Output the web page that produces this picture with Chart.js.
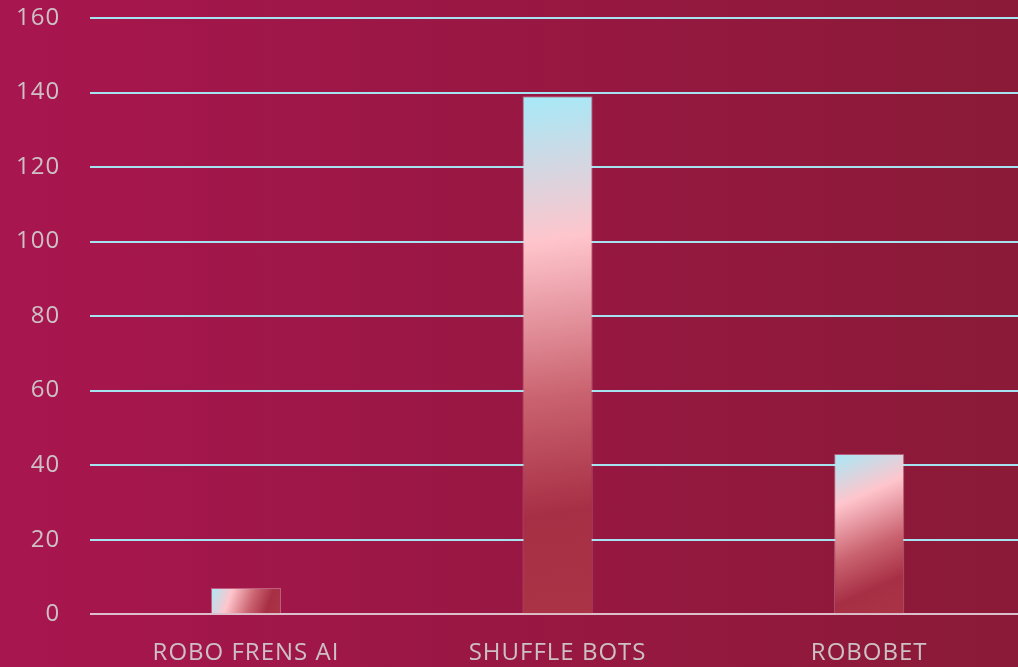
<!DOCTYPE html>
<html lang="en">
<head>
    <meta charset="UTF-8">
    <title>Bots</title>
    <script src="https://cdn.jsdelivr.net/npm/chart.js"></script>
    <style>
        html, body { margin: 0; padding: 0; }
        body {
            width: 1018px;
            height: 667px;
            overflow: hidden;
            background: linear-gradient(90deg, #a8164f 0%, #9a1744 45%, #8a1a37 100%);
        }
        #myChart { display: block; }
    </style>
</head>
<body>
    <!-- a bit wider than the window: the grid runs off the right edge -->
    <canvas id="myChart" width="1025" height="667"></canvas>
    <script>
        const categories = ['ROBO FRENS AI', 'SHUFFLE BOTS', 'ROBOBET'];
        const values = [7, 139, 43];
        const yMax = 160;
        const yStep = 20;

        const labelColor = '#cdc1c6';
        const spacing = '1px';

        // letterSpacing is reset every time the canvas is resized, so set it again before layout and draw
        const spacingPlugin = {
            id: 'spacing',
            beforeLayout(chart) { chart.ctx.letterSpacing = spacing; },
            beforeDraw(chart) { chart.ctx.letterSpacing = spacing; }
        };

        // diagonal gradient per bar, top-left cyan to bottom-right red
        const barGradient = {
            id: 'barGradient',
            beforeDatasetsDraw(chart) {
                const ctx = chart.ctx;
                chart.getDatasetMeta(0).data.forEach(bar => {
                    const left = bar.x - bar.width / 2;
                    const right = bar.x + bar.width / 2;
                    const g = ctx.createLinearGradient(left, bar.y, right, bar.base);
                    g.addColorStop(0, '#a6e9f8');
                    g.addColorStop(0.28, '#ffc5cc');
                    g.addColorStop(0.58, '#c9626f');
                    g.addColorStop(0.8, '#a72f45');
                    g.addColorStop(1, '#aa3446');
                    bar.options.backgroundColor = g;
                });
            }
        };

        const ctx = document.getElementById('myChart').getContext('2d');

        const chart = new Chart(ctx, {
            type: 'bar',
            data: {
                labels: categories,
                datasets: [{
                    data: values,
                    backgroundColor: () => '#c9626f', // scriptable, so every bar keeps its own options
                    borderColor: 'rgba(255, 225, 235, 0.35)',
                    borderWidth: 1,
                    barPercentage: 1,
                    categoryPercentage: 0.225
                }]
            },
            options: {
                responsive: false,
                animation: false,
                layout: {
                    padding: { top: 18, left: 16, right: 0, bottom: -26 }
                },
                plugins: {
                    legend: { display: false },
                    tooltip: { enabled: false }
                },
                scales: {
                    x: {
                        grid: { display: false, drawTicks: false },
                        border: { display: false },
                        ticks: {
                            color: labelColor,
                            padding: 25,
                            font: { family: 'Open Sans', size: 24 }
                        }
                    },
                    y: {
                        min: 0,
                        max: yMax,
                        border: { display: false },
                        grid: {
                            drawTicks: true,
                            tickLength: 30,
                            tickColor: 'transparent',
                            lineWidth: 2,
                            color: (c) => c.index === 0 ? '#dcbfca' : '#a6e3f0'
                        },
                        ticks: {
                            stepSize: yStep,
                            color: labelColor,
                            padding: 0,
                            font: { family: 'Open Sans', size: 24 }
                        }
                    }
                }
            },
            plugins: [spacingPlugin, barGradient]
        });
    </script>
</body>
</html>
